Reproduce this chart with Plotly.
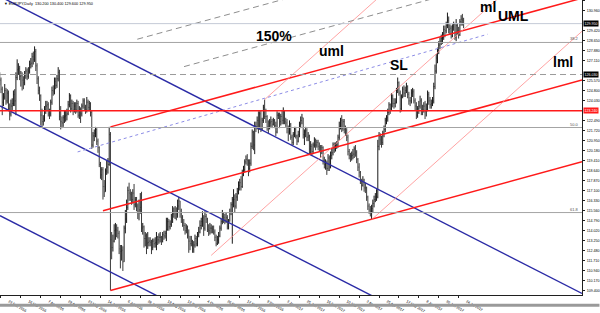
import plotly.graph_objects as go
import pandas as pd

# ---------------- data (EURJPY daily) ----------------
FIRST_OPEN = 125.9
closes = [
    125.6, 124.9, 123.9, 124.3, 124.8, 124.0, 124.6, 123.4, 123.0, 123.6,
    123.8, 124.5, 124.0, 125.8, 126.4, 126.5, 125.9, 126.0, 125.6, 125.4,
    126.0, 126.3, 125.9, 126.3, 126.8, 126.9, 127.4, 127.2, 127.8, 126.7,
    125.7, 124.8, 124.4, 122.9, 122.4, 122.6, 123.3, 123.6, 123.7, 123.0,
    123.0, 123.9, 124.8, 124.7, 125.5, 125.2, 125.7, 126.2, 122.8, 122.4,
    122.3, 122.7, 122.8, 122.9, 123.0, 123.7, 124.4, 123.4, 123.8, 123.3,
    123.6, 123.3, 123.8, 122.9, 123.3, 123.0, 123.6, 124.0, 123.5, 123.3,
    123.9, 123.5, 123.8, 123.1, 120.6, 121.3, 121.5, 121.8, 120.9, 120.4,
    119.1, 118.3, 118.7, 117.4, 117.0, 118.6, 118.9, 119.1, 121.4, 113.3,
    112.7, 113.2, 114.0, 114.1, 114.0, 113.8, 112.6, 112.4, 112.5, 111.6,
    114.2, 114.9, 115.8, 117.1, 116.9, 116.8, 116.4, 116.9, 116.0, 116.4,
    115.9, 115.4, 115.6, 115.8, 114.2, 114.3, 113.4, 113.6, 113.0, 113.1,
    113.2, 113.1, 112.7, 113.2, 113.0, 113.1, 113.5, 113.3, 113.5, 113.5,
    113.2, 113.7, 113.6, 113.8, 114.1, 114.7, 114.3, 114.5, 114.9, 115.3,
    115.4, 115.4, 115.3, 115.9, 116.3, 115.4, 115.0, 114.6, 114.4, 114.0,
    114.2, 113.6, 113.2, 113.0, 113.2, 112.6, 112.9, 113.4, 113.0, 113.7,
    113.9, 114.4, 114.7, 115.0, 114.2, 115.1, 114.9, 114.1, 114.0, 114.2,
    114.2, 114.1, 113.9, 113.5, 113.0, 113.3, 113.6, 114.2, 114.7, 115.1,
    115.0, 114.8, 115.0, 114.3, 114.7, 115.4, 116.0, 116.4, 116.4, 115.9,
    116.6, 117.0, 117.5, 117.7, 117.4, 118.5, 118.7, 119.3, 119.5, 119.4,
    118.8, 119.2, 120.5, 121.6, 120.6, 122.1, 122.0, 122.5, 121.8, 123.0,
    121.9, 122.5, 123.5, 122.8, 122.8, 122.0, 121.9, 122.3, 122.4, 122.2,
    122.5, 122.1, 121.6, 122.9, 122.9, 122.4, 122.8, 122.5, 123.2, 122.4,
    122.3, 121.9, 121.6, 122.2, 121.2, 120.8, 121.4, 121.8, 121.3, 120.9,
    121.4, 122.2, 122.5, 122.7, 121.4, 121.6, 121.7, 121.2, 121.3, 120.3,
    120.5, 120.1, 120.6, 120.9, 120.6, 120.8, 120.5, 120.4, 120.1, 120.4,
    119.4, 119.1, 119.2, 118.8, 119.6, 118.9, 119.8, 120.0, 120.6, 120.3,
    120.6, 120.6, 121.2, 122.0, 122.5, 121.9, 122.4, 121.8, 121.7, 121.2,
    120.1, 119.8, 119.7, 119.8, 119.9, 120.3, 120.0, 119.5, 118.9, 118.5,
    117.8, 117.5, 117.9, 117.3, 117.3, 116.6, 115.9, 115.6, 115.5, 115.7,
    116.1, 116.4, 116.6, 116.6, 120.5, 121.3, 121.0, 120.8, 121.5, 121.8,
    122.5, 122.7, 123.1, 123.7, 123.4, 124.2, 123.8, 123.8, 123.9, 124.8,
    125.4, 124.6, 123.4, 124.3, 124.9, 124.6, 124.8, 125.1, 124.5, 124.0,
    124.0, 124.6, 124.7, 124.0, 123.6, 122.9, 123.4, 123.6, 124.0, 123.3,
    123.3, 123.6, 123.2, 123.3, 124.5, 124.0, 123.7, 123.8, 124.0, 125.1,
    126.3, 127.3, 127.9, 128.3, 128.6, 128.8, 128.9, 129.5, 129.4, 129.8,
    130.2, 129.5, 129.6, 129.0, 129.7, 129.9, 128.9, 129.8, 129.4, 129.1,
    130.1, 130.3, 130.2, 129.95,
]
highs = [
    126.2, 125.8, 125.1, 124.6, 125.3, 125.0, 124.9, 124.8, 123.8, 124.1,
    124.2, 124.8, 124.9, 126.2, 127.2, 126.9, 126.7, 126.3, 126.2, 125.9,
    126.3, 126.6, 126.5, 126.6, 127.1, 127.3, 127.7, 127.8, 128.2, 128.0,
    126.9, 125.9, 125.1, 124.5, 123.4, 122.9, 123.6, 124.0, 124.0, 123.9,
    123.4, 124.1, 125.1, 125.2, 125.8, 125.8, 126.0, 126.6, 126.4, 123.6,
    122.8, 122.9, 123.3, 123.3, 123.4, 124.0, 124.6, 124.5, 124.1, 124.0,
    123.9, 123.9, 124.1, 124.0, 123.6, 123.5, 123.8, 124.2, 124.2, 123.7,
    124.3, 124.1, 124.0, 123.9, 123.3, 121.6, 121.8, 122.0, 121.9, 121.1,
    120.5, 119.3, 118.9, 118.9, 117.9, 118.8, 119.4, 119.6, 122.0, 121.6,
    113.9, 113.7, 114.5, 114.6, 114.5, 114.3, 114.0, 112.9, 112.9, 112.8,
    114.4, 115.6, 116.4, 117.4, 117.7, 117.2, 117.0, 117.2, 117.6, 116.6,
    116.6, 116.1, 116.4, 116.9, 117.0, 114.6, 114.4, 113.9, 113.8, 113.9,
    113.5, 113.5, 113.3, 113.4, 113.4, 113.5, 113.9, 113.6, 113.8, 113.9,
    113.6, 113.9, 114.0, 114.0, 115.0, 115.0, 114.9, 114.8, 115.3, 115.9,
    115.8, 115.9, 115.8, 116.4, 116.6, 116.3, 115.7, 115.2, 114.9, 114.6,
    114.5, 114.4, 114.1, 113.6, 113.6, 113.3, 113.2, 113.7, 113.6, 113.9,
    114.3, 114.8, 115.0, 115.5, 115.2, 115.5, 115.3, 115.0, 114.5, 114.6,
    114.5, 114.4, 114.4, 114.1, 113.7, 113.6, 113.9, 114.4, 114.9, 115.6,
    115.4, 115.3, 115.4, 115.2, 114.9, 115.7, 116.2, 116.6, 117.2, 116.8,
    116.9, 117.3, 117.8, 118.0, 118.2, 118.7, 119.0, 119.5, 119.8, 119.9,
    119.5, 119.5, 120.8, 121.8, 121.7, 122.4, 122.4, 122.8, 123.2, 123.2,
    123.3, 122.7, 123.7, 124.1, 123.4, 122.9, 122.5, 122.6, 122.8, 122.6,
    122.7, 122.6, 122.4, 123.2, 123.1, 123.1, 123.0, 123.3, 123.5, 123.3,
    122.7, 122.6, 122.1, 122.5, 122.3, 121.4, 121.6, 122.0, 122.0, 121.4,
    121.7, 122.4, 122.8, 123.0, 122.7, 121.8, 122.0, 121.9, 121.6, 121.4,
    120.9, 120.7, 120.8, 121.2, 121.1, 121.0, 121.0, 120.8, 120.6, 120.6,
    120.5, 119.7, 119.5, 119.4, 119.9, 119.8, 120.1, 120.3, 120.8, 120.8,
    120.8, 120.9, 121.4, 122.4, 122.7, 122.9, 122.6, 122.6, 122.1, 121.9,
    121.4, 120.3, 120.0, 120.1, 120.3, 120.5, 120.6, 120.2, 119.6, 119.2,
    118.6, 118.0, 118.2, 118.0, 117.7, 117.4, 116.7, 116.1, 115.9, 116.0,
    116.4, 116.7, 116.9, 117.2, 121.0, 121.6, 121.5, 121.3, 121.7, 122.1,
    122.7, 122.9, 123.4, 123.9, 123.8, 124.6, 124.5, 124.2, 124.2, 125.0,
    125.8, 125.5, 124.8, 124.5, 125.1, 125.2, 125.1, 125.4, 125.2, 124.7,
    124.3, 124.9, 125.0, 124.9, 124.2, 123.9, 123.6, 124.0, 124.4, 124.2,
    123.7, 123.9, 124.0, 123.8, 124.8, 124.7, 124.3, 124.1, 124.3, 125.4,
    126.8, 127.6, 128.1, 128.6, 128.9, 129.1, 129.3, 129.8, 129.8, 130.1,
    130.8, 130.5, 129.9, 129.8, 129.9, 130.1, 130.0, 130.3, 130.0, 129.7,
    130.3, 130.6, 130.7, 130.4,
]
lows = [
    125.2, 124.6, 122.9, 123.6, 124.1, 123.7, 123.8, 123.2, 122.5, 122.8,
    123.3, 123.6, 123.6, 122.9, 125.6, 126.0, 125.6, 125.1, 124.8, 124.9,
    125.2, 125.7, 125.6, 125.7, 126.1, 126.5, 126.6, 126.8, 127.0, 126.3,
    125.3, 124.5, 124.0, 122.1, 122.0, 122.1, 122.4, 123.0, 123.2, 122.8,
    122.6, 122.8, 123.7, 124.4, 124.5, 124.9, 125.0, 125.5, 122.5, 121.8,
    121.9, 122.0, 122.3, 122.4, 122.5, 122.9, 123.5, 123.1, 123.2, 122.9,
    123.1, 123.0, 123.1, 122.7, 122.6, 122.3, 122.8, 123.4, 123.3, 123.0,
    123.1, 123.2, 123.2, 122.8, 120.3, 120.4, 120.9, 121.2, 120.6, 120.0,
    118.9, 118.0, 117.9, 116.4, 116.6, 117.0, 118.3, 118.4, 119.0, 109.4,
    111.8, 112.4, 113.1, 113.3, 113.5, 113.4, 112.2, 111.1, 111.7, 110.9,
    111.6, 113.8, 114.6, 115.6, 116.3, 116.3, 116.0, 116.1, 115.6, 115.8,
    115.5, 114.9, 114.8, 115.3, 113.9, 113.7, 112.7, 112.8, 112.2, 112.6,
    112.8, 112.8, 112.2, 112.5, 112.7, 112.7, 112.5, 112.9, 113.0, 113.1,
    112.9, 113.1, 113.3, 113.4, 113.2, 114.0, 114.0, 114.1, 114.3, 114.6,
    115.0, 114.9, 114.8, 115.0, 115.6, 115.0, 114.6, 114.3, 114.0, 113.7,
    113.8, 113.4, 112.3, 112.5, 112.8, 112.3, 112.3, 112.7, 112.8, 112.8,
    113.5, 113.8, 114.1, 114.3, 113.6, 114.0, 114.6, 113.9, 113.6, 113.7,
    113.8, 113.8, 113.7, 113.2, 112.8, 112.9, 113.0, 113.5, 114.0, 114.5,
    114.6, 114.5, 114.6, 114.1, 114.1, 114.7, 115.2, 113.0, 115.8, 115.4,
    115.7, 116.3, 116.8, 117.1, 117.1, 117.3, 118.2, 118.5, 119.1, 119.0,
    118.2, 118.5, 119.0, 120.3, 120.2, 119.9, 121.6, 121.8, 121.5, 121.8,
    121.6, 121.7, 122.3, 122.6, 122.3, 121.7, 121.5, 121.8, 122.0, 121.9,
    122.1, 121.9, 121.3, 121.5, 122.6, 121.9, 122.1, 122.2, 122.2, 122.2,
    122.0, 121.5, 120.9, 121.4, 121.0, 120.6, 120.6, 121.2, 121.1, 120.6,
    120.8, 121.2, 121.9, 122.2, 121.1, 120.6, 121.2, 120.9, 120.9, 119.9,
    119.9, 119.8, 119.9, 120.4, 120.2, 120.4, 120.2, 120.1, 119.6, 119.9,
    119.1, 118.8, 118.7, 118.3, 118.6, 118.6, 118.8, 119.5, 119.8, 120.0,
    120.1, 120.3, 120.4, 121.0, 121.8, 121.6, 121.7, 121.5, 121.3, 120.9,
    119.8, 119.5, 119.3, 119.4, 119.5, 119.6, 119.7, 119.2, 118.6, 118.1,
    117.6, 117.1, 117.4, 117.0, 116.9, 116.3, 115.6, 115.3, 115.1, 114.9,
    115.4, 115.8, 116.2, 116.3, 116.5, 120.2, 120.6, 120.4, 120.6, 121.2,
    121.6, 122.2, 122.4, 122.9, 123.0, 123.3, 123.5, 123.4, 123.5, 123.8,
    124.6, 124.4, 123.1, 123.2, 124.2, 124.3, 124.3, 124.6, 124.2, 123.7,
    123.6, 123.8, 124.3, 123.8, 123.3, 122.6, 122.7, 123.0, 123.4, 122.9,
    122.9, 123.1, 122.6, 122.8, 123.2, 123.7, 123.4, 123.4, 123.6, 123.8,
    124.9, 126.1, 126.9, 127.6, 128.0, 128.3, 128.4, 128.7, 128.9, 129.2,
    129.6, 129.2, 129.1, 128.8, 128.9, 129.4, 128.7, 128.6, 129.1, 128.8,
    129.0, 129.8, 129.8, 129.6,
]

# trading days (no bar on 26 Dec 2016)
dates = pd.bdate_range("2016-02-22", "2017-07-28")
dates = dates[dates != pd.Timestamp("2016-12-26")][: len(closes)]
bars = list(range(len(closes)))
opens = [FIRST_OPEN] + closes[:-1]

xtick_dates = ["2016-02-23", "2016-03-16", "2016-04-07", "2016-04-29", "2016-05-23",
               "2016-06-14", "2016-07-06", "2016-07-28", "2016-08-19", "2016-09-12",
               "2016-10-04", "2016-10-26", "2016-11-17", "2016-12-09", "2017-01-03",
               "2017-01-25", "2017-02-16", "2017-03-10", "2017-04-03", "2017-04-25",
               "2017-05-17", "2017-06-08", "2017-06-30", "2017-07-24"]
xtick_labels = ["23 Feb 2016", "16 Mar 2016", "7 Apr 2016", "29 Apr 2016", "23 May 2016",
                "14 Jun 2016", "6 Jul 2016", "28 Jul 2016", "19 Aug 2016", "12 Sep 2016",
                "4 Oct 2016", "26 Oct 2016", "17 Nov 2016", "9 Dec 2016", "3 Jan 2017",
                "25 Jan 2017", "16 Feb 2017", "10 Mar 2017", "3 Apr 2017", "25 Apr 2017",
                "17 May 2017", "8 Jun 2017", "30 Jun 2017", "24 Jul 2017"]
xtick_pos = [int(dates.get_loc(pd.Timestamp(d))) for d in xtick_dates]

price_ticks_all = [109.400, 110.170, 110.940, 111.710, 112.480, 113.250, 114.020, 114.790,
                   115.560, 116.330, 117.100, 117.870, 118.640, 119.410, 120.180, 120.950,
                   121.720, 122.490, 123.260, 124.030, 124.800, 125.570, 126.340, 127.110,
                   127.880, 128.650, 129.420, 130.190, 130.960, 131.730]

# drawn objects: (bar index, price)
blue_x = [0.2, 468.2]
blue_upper = [132.04, 109.17]
blue_mid = [123.61, 100.74]
blue_lower = [115.16, 92.29]

red_x = [89, 468.2]
red_upper = [122.00, 131.91]
red_lower = [109.40, 119.31]
red_median_x = [83, 468.2]
red_median = [115.54, 125.61]

fork_x = [170, 213, 299]          # pivot, high, low of the thin pitchfork
fork_y = [112.10, 124.10, 114.85]

sl_x = [62.6, 392.2]
sl_y = [120.07, 129.13]
exp_x1 = [110.6, 250.0]
exp_y1 = [128.75, 132.39]
exp_x2 = [148.2, 360.0]
exp_y2 = [126.64, 132.18]

level_bid = 129.95
level_dashed = 126.03
level_red = 123.24
fib_levels = [128.50, 121.95, 115.40]
fib_names = ["38.2", "50.0", "61.8"]

X_END = 468.2
Y_RANGE = [109.05, 131.77]

boxed_levels = [level_bid, level_dashed, level_red]
price_ticks = [t for t in price_ticks_all if all(abs(t - b) > 0.42 for b in boxed_levels)]
price_tick_labels = [f"{v:.3f}" for v in price_ticks]

# ---------------- figure ----------------
fig = go.Figure()

fig.add_trace(go.Ohlc(
    x=bars, open=opens, high=highs, low=lows, close=closes,
    increasing=dict(line=dict(color="#1a1a1a", width=1)),
    decreasing=dict(line=dict(color="#3a3a3a", width=1)),
    tickwidth=0.3, hoverinfo="skip",
))


def add_line(x, y, color, width, dash="solid"):
    fig.add_trace(go.Scatter(x=x, y=y, mode="lines", hoverinfo="skip",
                             line=dict(color=color, width=width, dash=dash)))


shapes = []
def hline(y, color, width=1, dash="solid"):
    shapes.append(dict(type="line", xref="paper", x0=0, x1=1, yref="y", y0=y, y1=y,
                       line=dict(color=color, width=width, dash=dash), layer="above"))

hline(level_bid, "#c4cad6")
for lv in fib_levels:
    hline(lv, "#a4a4a4")
hline(level_dashed, "#9a9a9a", 1, "6px,4px")
hline(level_red, "#ff1a1a", 1.3)

# blue descending channel
add_line(blue_x, blue_upper, "#2b2ba6", 1.4)
add_line(blue_x, blue_mid, "#2b2ba6", 1.4)
add_line(blue_x, blue_lower, "#2b2ba6", 1.4)

# red channel
add_line(red_x, red_upper, "#ff1a1a", 1.5)
add_line(red_x, red_lower, "#ff1a1a", 1.5)
add_line(red_median_x, red_median, "#ff1a1a", 1.5)

# thin pitchfork (ml / uml / lml)
mid_x = (fork_x[1] + fork_x[2]) / 2
mid_y = (fork_y[1] + fork_y[2]) / 2
slope = (mid_y - fork_y[0]) / (mid_x - fork_x[0])
for px, py in zip(fork_x, fork_y):
    add_line([px, X_END], [py, py + slope * (X_END - px)], "#ff8c8c", 0.8)

# dotted SL line and dashed expansion lines
add_line(sl_x, sl_y, "#8c8ce6", 1, "dot")
add_line(exp_x1, exp_y1, "#8e8e8e", 1, "6px,4px")
add_line(exp_x2, exp_y2, "#8e8e8e", 1, "6px,4px")

annotations = []
def label(text, x, y):
    annotations.append(dict(text=f"<b>{text}</b>", x=x, y=y, xref="x", yref="y",
                            showarrow=False, xanchor="center", yanchor="middle",
                            font=dict(family="Liberation Sans", size=14, color="black")))

label("150%", 220.2, 128.98)
label("uml", 266.6, 127.84)
label("SL", 321.0, 126.79)
label("ml", 393.0, 131.24)
label("UML", 413.0, 130.56)
label("lml", 453.0, 127.01)

for lv, nm in zip(fib_levels, fib_names):
    annotations.append(dict(text=nm, x=0.998, y=lv, xref="paper", yref="y", showarrow=False,
                            xanchor="right", yanchor="bottom", yshift=-1,
                            font=dict(family="Liberation Sans", size=4, color="#555555")))

for lv, bg in [(level_bid, "black"), (level_dashed, "black"), (level_red, "#ff1a1a")]:
    annotations.append(dict(text=f"{lv:.3f}", x=1.0, y=lv, xref="paper", yref="y",
                            showarrow=False, xanchor="left", yanchor="middle", xshift=1,
                            bgcolor=bg, borderpad=0.5,
                            font=dict(family="Liberation Sans", size=3.6, color="white")))

annotations.append(dict(text=f"\u25BC EURJPY,Daily  {opens[-1]:.3f} {highs[-1]:.3f} {lows[-1]:.3f} {closes[-1]:.3f}",
                        x=0.003, y=1.0, xref="paper", yref="paper", showarrow=False,
                        xanchor="left", yanchor="top",
                        font=dict(family="Liberation Sans", size=3.8, color="black")))

# bottom window strip
shapes.append(dict(type="rect", xref="paper", yref="paper", x0=0, x1=1.03, y0=-0.04, y1=-0.030,
                   fillcolor="#9a9a9a", line=dict(width=0), layer="above"))

fig.update_layout(
    width=600, height=313,
    margin=dict(l=0, r=15, t=0, b=12),
    paper_bgcolor="white", plot_bgcolor="white",
    showlegend=False,
    shapes=shapes, annotations=annotations,
    xaxis=dict(range=[0.2, X_END], tickmode="array", tickvals=xtick_pos, ticktext=xtick_labels,
               showgrid=False, zeroline=False, showline=True, linecolor="#202020", linewidth=1,
               ticks="outside", ticklen=2, tickcolor="#202020", ticklabelshift=8,
               tickfont=dict(family="Liberation Sans", size=3.6, color="black"),
               rangeslider=dict(visible=False), fixedrange=True),
    yaxis=dict(range=Y_RANGE, side="right", tickmode="array", tickvals=price_ticks,
               ticktext=price_tick_labels, showgrid=False, zeroline=False, showline=True,
               linecolor="#202020", linewidth=1, ticks="outside", ticklen=2, tickcolor="#202020",
               ticklabelstandoff=1,
               tickfont=dict(family="Liberation Sans", size=3.6, color="black"), fixedrange=True),
)

fig.write_html("out.html")
